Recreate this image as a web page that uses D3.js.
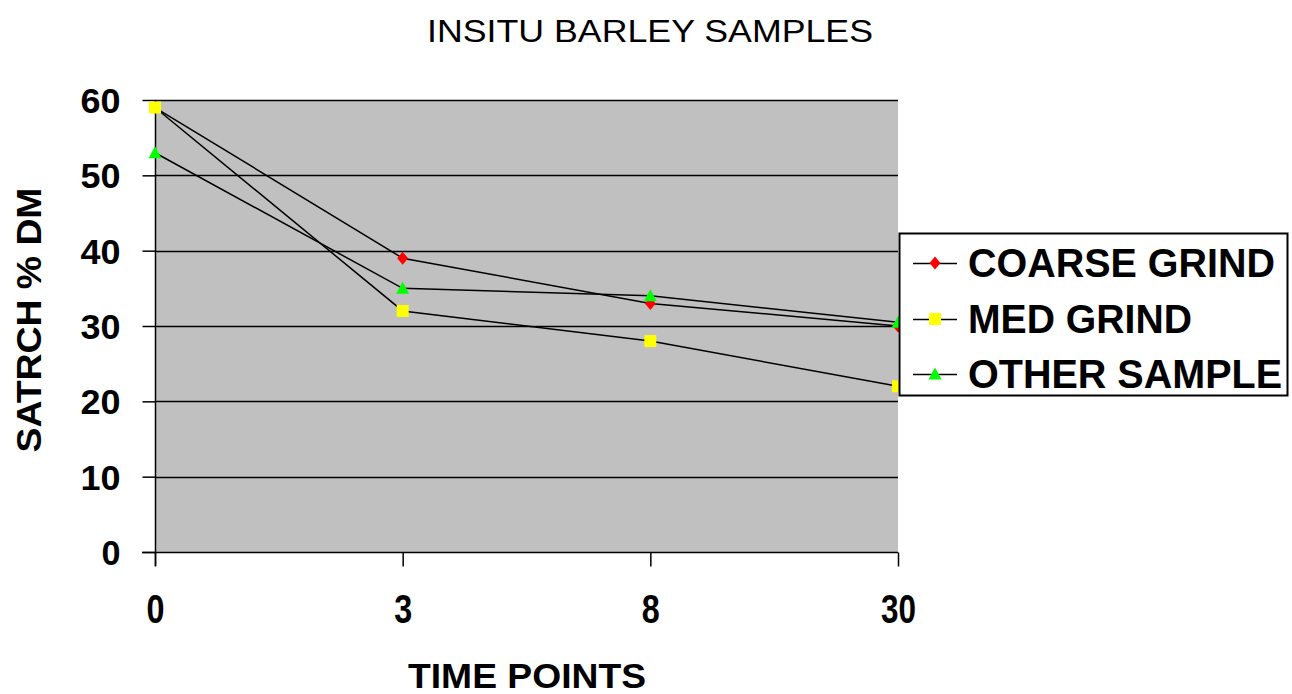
<!DOCTYPE html>
<html>
<head>
<meta charset="utf-8">
<script src="https://cdn.jsdelivr.net/npm/d3@7"></script>
<style>
  html, body { margin: 0; padding: 0; background: #ffffff; }
  svg { display: block; }
  text { font-family: Arial, "Liberation Sans", sans-serif; fill: #000; }
</style>
</head>
<body>
<svg id="chart" width="1292" height="694"></svg>
<script>
// Time points (categorical x axis)
const timePoints = ["0", "3", "8", "30"];

// Starch % DM per grind type
const coarseGrind = [59, 39, 33, 30];
const medGrind    = [59, 32, 28, 22];
const otherSample = [53, 35, 34, 30.5];

const yTicks = [0, 10, 20, 30, 40, 50, 60];

const seriesNames = ["COARSE GRIND", "MED GRIND", "OTHER SAMPLE"];
const seriesValues = [coarseGrind, medGrind, otherSample];
const seriesColors = ["#ff0000", "#ffff00", "#00ff00"];
const seriesShapes = ["diamond", "square", "triangle"];

const svg = d3.select("#chart");

const plot = { left: 155, right: 898, top: 100, bottom: 552 };

const x = d3.scalePoint().domain(timePoints).range([plot.left, plot.right]).padding(0);
const y = d3.scaleLinear().domain([0, 60]).range([plot.bottom, plot.top]);

// Plot background
svg.append("rect")
  .attr("x", plot.left).attr("y", plot.top)
  .attr("width", plot.right - plot.left).attr("height", plot.bottom - plot.top)
  .attr("fill", "#c0c0c0");

// Horizontal gridlines
svg.append("g").selectAll("line")
  .data(yTicks.filter(d => d > 0))
  .join("line")
  .attr("x1", plot.left).attr("x2", plot.right)
  .attr("y1", d => Math.round(y(d)) + 0.5).attr("y2", d => Math.round(y(d)) + 0.5)
  .attr("stroke", "#000").attr("stroke-width", 1.3);

// Y axis
const yAxis = svg.append("g")
  .attr("transform", `translate(${plot.left + 0.5},0)`)
  .call(d3.axisLeft(y).tickValues(yTicks).tickSize(13).tickPadding(0).tickFormat(d3.format("d")));
yAxis.select(".domain").attr("stroke", "#000").attr("stroke-width", 1.5).attr("d", `M0,${plot.top}V${plot.bottom + 14}`);
yAxis.selectAll(".tick line").attr("stroke", "#000").attr("stroke-width", 1.5);
yAxis.selectAll(".tick text")
  .attr("x", -35)
  .attr("dy", "0.36em")
  .attr("text-anchor", "end")
  .style("font-size", "35px")
  .style("font-weight", "bold")
  .style("font-family", "Arial, 'Liberation Sans', sans-serif")
  .attr("textLength", d => d === 0 ? 19 : 40)
  .attr("lengthAdjust", "spacingAndGlyphs");

// X axis
const xAxis = svg.append("g")
  .attr("transform", `translate(0,${plot.bottom + 0.5})`)
  .call(d3.axisBottom(x).tickSize(14).tickPadding(0));
xAxis.select(".domain").attr("stroke", "#000").attr("stroke-width", 1.5).attr("d", `M${plot.left - 13},0H${plot.right}`);
xAxis.selectAll(".tick line").attr("stroke", "#000").attr("stroke-width", 1.5);
xAxis.selectAll(".tick text")
  .attr("y", 70)
  .attr("dy", 0)
  .style("font-size", "40px")
  .style("font-weight", "bold")
  .style("font-family", "Arial, 'Liberation Sans', sans-serif")
  .attr("textLength", d => d.length === 1 ? 18 : 35)
  .attr("lengthAdjust", "spacingAndGlyphs");

// Series lines
const line = d3.line().x((d, i) => x(timePoints[i])).y(d => y(d));
svg.append("g").selectAll("path")
  .data(seriesValues)
  .join("path")
  .attr("d", d => line(d))
  .attr("fill", "none")
  .attr("stroke", "#000")
  .attr("stroke-width", 1.5);

// Marker shapes
function markerPath(shape) {
  if (shape === "diamond") return "M0,-6.5L5.5,0L0,6.5L-5.5,0Z";
  if (shape === "square") return "M-6,-6H6V6H-6Z";
  return "M0,-6.5L6.5,5.5H-6.5Z";
}

const markers = svg.append("g");
seriesValues.forEach((vals, s) => {
  markers.append("g").selectAll("path")
    .data(vals)
    .join("path")
    .attr("transform", (d, i) => `translate(${x(timePoints[i])},${y(d)})`)
    .attr("d", markerPath(seriesShapes[s]))
    .attr("fill", seriesColors[s]);
});

// Title
svg.append("text")
  .attr("x", 650).attr("y", 42)
  .attr("text-anchor", "middle")
  .style("font-size", "31px")
  .attr("textLength", 446)
  .attr("lengthAdjust", "spacingAndGlyphs")
  .text("INSITU BARLEY SAMPLES");

// Axis titles
svg.append("text")
  .attr("x", 527).attr("y", 688)
  .attr("text-anchor", "middle")
  .style("font-size", "35px").style("font-weight", "bold")
  .attr("textLength", 238)
  .attr("lengthAdjust", "spacingAndGlyphs")
  .text("TIME POINTS");

svg.append("text")
  .attr("transform", "translate(41,320) rotate(-90)")
  .attr("text-anchor", "middle")
  .style("font-size", "35px").style("font-weight", "bold")
  .attr("textLength", 265)
  .attr("lengthAdjust", "spacingAndGlyphs")
  .text("SATRCH % DM");

// Legend
const legend = svg.append("g");
legend.append("rect")
  .attr("x", 899.5).attr("y", 233.5)
  .attr("width", 388).attr("height", 162)
  .attr("fill", "#fff")
  .attr("stroke", "#000").attr("stroke-width", 2);

const legendRows = [263, 319, 374];
const legendWidths = [307, 224, 314];
seriesNames.forEach((name, s) => {
  const ly = legendRows[s];
  legend.append("line")
    .attr("x1", 913).attr("x2", 957)
    .attr("y1", ly + 0.5).attr("y2", ly + 0.5)
    .attr("stroke", "#000").attr("stroke-width", 1.5);
  legend.append("path")
    .attr("transform", `translate(935,${ly})`)
    .attr("d", markerPath(seriesShapes[s]))
    .attr("fill", seriesColors[s]);
  legend.append("text")
    .attr("x", 968).attr("y", ly + 14)
    .style("font-size", "40px").style("font-weight", "bold")
    .attr("textLength", legendWidths[s])
    .attr("lengthAdjust", "spacingAndGlyphs")
    .text(name);
});
</script>
</body>
</html>
